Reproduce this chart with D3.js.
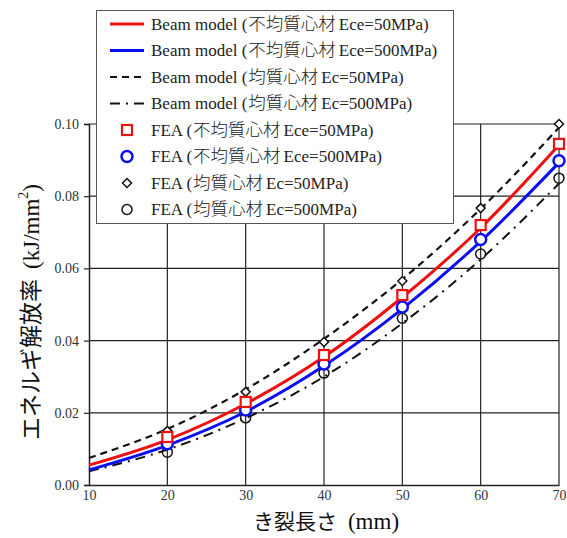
<!DOCTYPE html>
<html><head><meta charset="utf-8">
<script src="https://cdn.jsdelivr.net/npm/d3@7"></script>
<style>body{margin:0;background:#fff}
.serif{font-family:"Liberation Serif","Times New Roman","DejaVu Serif",serif}
.jp{font-family:"Noto Sans CJK JP","Noto Sans",sans-serif}
</style>
</head><body>
<script>
const crackLength = [10, 20, 30, 40, 50, 60, 70];
const feaX = [20, 30, 40, 50, 60, 70];
const beamHetero50 = [0.0055, 0.0125, 0.0225, 0.0355, 0.052, 0.0712, 0.0942];
const beamHetero500 = [0.0042, 0.0110, 0.0203, 0.0330, 0.0488, 0.0675, 0.0893];
const beamHomo50 = [0.0075, 0.0155, 0.0265, 0.0405, 0.0570, 0.0765, 0.0990];
const beamHomo500 = [0.0038, 0.0098, 0.0185, 0.0300, 0.0448, 0.0625, 0.0835];
const feaHetero50 = [0.0133, 0.0230, 0.0360, 0.0526, 0.0720, 0.0945];
const feaHetero500 = [0.0114, 0.0208, 0.0335, 0.0493, 0.0680, 0.0898];
const feaHomo50 = [0.0150, 0.0258, 0.0396, 0.0565, 0.0767, 0.1000];
const feaHomo500 = [0.0091, 0.0186, 0.0310, 0.0462, 0.0640, 0.0850];
const xTicks = [10, 20, 30, 40, 50, 60, 70];
const yTicks = [0.00, 0.02, 0.04, 0.06, 0.08, 0.10];
const legendLabels = [
  "Beam model (不均質心材Ece=50MPa)",
  "Beam model (不均質心材Ece=500MPa)",
  "Beam model (均質心材Ec=50MPa)",
  "Beam model (均質心材Ec=500MPa)",
  "FEA (不均質心材Ece=50MPa)",
  "FEA (不均質心材Ece=500MPa)",
  "FEA (均質心材Ec=50MPa)",
  "FEA (均質心材Ec=500MPa)"
];

const W = 567, H = 538;
const m = {l: 89, r: 7, t: 124, b: 53};
const svg = d3.select("body").append("svg").attr("width", W).attr("height", H);
const x = d3.scaleLinear().domain([10, 70]).range([m.l, W - m.r - 1]);
const y = d3.scaleLinear().domain([0, 0.10]).range([H - m.b, m.t]);

// grid
const g = svg.append("g");
g.selectAll(".vg").data(xTicks.slice(1)).join("line")
  .attr("x1", d => x(d)).attr("x2", d => x(d)).attr("y1", y(0)).attr("y2", y(0.10))
  .attr("stroke", "#222").attr("stroke-width", 1.2);
g.selectAll(".hg").data(yTicks.slice(1)).join("line")
  .attr("x1", x(10)).attr("x2", x(70)).attr("y1", d => y(d)).attr("y2", d => y(d))
  .attr("stroke", "#222").attr("stroke-width", 1.2);

// axes
const xAxis = svg.append("g").attr("transform", `translate(0,${y(0)})`)
  .call(d3.axisBottom(x).tickValues(xTicks).tickSize(0).tickPadding(5).tickFormat(d3.format("d")));
const yAxis = svg.append("g").attr("transform", `translate(${x(10)},0)`)
  .call(d3.axisLeft(y).tickValues(yTicks).tickSize(5).tickPadding(5).tickFormat(d3.format(".2f")));
[xAxis, yAxis].forEach(a => {
  a.attr("font-family", null);
  a.select(".domain").attr("stroke", "#222").attr("stroke-width", 1.5);
  a.selectAll(".tick line").attr("stroke", "#222").attr("stroke-width", 1.2);
  a.selectAll("text").attr("class", "serif").attr("font-size", 14).attr("fill", "#333");
});

// lines
const line = d3.line().x(d => x(d[0])).y(d => y(d[1])).curve(d3.curveMonotoneX);
const mk = arr => crackLength.map((c, i) => [c, arr[i]]);
const series = [
  {v: beamHomo500, color: "#111", w: 2, dash: "10,6,2,6"},
  {v: beamHomo50, color: "#111", w: 2.2, dash: "7,5"},
  {v: beamHetero500, color: "#0a0ff0", w: 3, dash: null},
  {v: beamHetero50, color: "#f01010", w: 3, dash: null}
];
series.forEach(s => {
  svg.append("path").datum(mk(s.v)).attr("d", line).attr("fill", "none")
    .attr("stroke", s.color).attr("stroke-width", s.w)
    .attr("stroke-dasharray", s.dash);
});

// markers
const sym = {
  square: (gg, cx, cy) => gg.append("rect").attr("x", cx - 5).attr("y", cy - 5).attr("width", 10).attr("height", 10)
    .attr("fill", "#fff").attr("stroke", "#f01010").attr("stroke-width", 2.2),
  bcircle: (gg, cx, cy) => gg.append("circle").attr("cx", cx).attr("cy", cy).attr("r", 5.5)
    .attr("fill", "#fff").attr("stroke", "#0a0ff0").attr("stroke-width", 2.5),
  diamond: (gg, cx, cy) => gg.append("path").attr("d", `M${cx},${cy-4.5}L${cx+4.5},${cy}L${cx},${cy+4.5}L${cx-4.5},${cy}Z`)
    .attr("fill", "#fff").attr("stroke", "#111").attr("stroke-width", 1.5),
  kcircle: (gg, cx, cy) => gg.append("circle").attr("cx", cx).attr("cy", cy).attr("r", 5)
    .attr("fill", "none").attr("stroke", "#111").attr("stroke-width", 1.5)
};
const pts = svg.append("g");
[[feaHomo500, "kcircle"], [feaHomo50, "diamond"], [feaHetero500, "bcircle"], [feaHetero50, "square"]].forEach(([arr, s]) => {
  feaX.forEach((c, i) => sym[s](pts, x(c), y(arr[i])));
});

// legend
const lg = svg.append("g");
lg.append("rect").attr("x", 96.5).attr("y", 10.5).attr("width", 357).attr("height", 213)
  .attr("fill", "#fff").attr("stroke", "#555").attr("stroke-width", 1);
const rowY = i => 24 + i * 26.5;
const lx1 = 110, lx2 = 144, mx = 127;
const legendKinds = [
  {t: "line", color: "#f01010", w: 3, dash: null},
  {t: "line", color: "#0a0ff0", w: 3, dash: null},
  {t: "line", color: "#111", w: 2.2, dash: "7,5"},
  {t: "line", color: "#111", w: 2.2, dash: "10,6,2,6"},
  {t: "sym", s: "square"},
  {t: "sym", s: "bcircle"},
  {t: "sym", s: "diamond"},
  {t: "sym", s: "kcircle"}
];
legendKinds.forEach((k, i) => {
  const cy = rowY(i);
  if (k.t === "line") {
    lg.append("line").attr("x1", lx1).attr("x2", lx2).attr("y1", cy).attr("y2", cy)
      .attr("stroke", k.color).attr("stroke-width", k.w).attr("stroke-dasharray", k.dash);
  } else {
    sym[k.s](lg, mx, cy);
  }
  const lab = legendLabels[i];
  const m1 = lab.match(/^(.*\()([^A-Za-z=0-9]+)(.*)$/);
  const tx = lg.append("text").attr("x", 151).attr("y", cy + 5.5).attr("font-size", 17).attr("fill", "#222")
    .attr("class", "serif");
  tx.append("tspan").text(m1[1]);
  tx.append("tspan").attr("class", "jp").attr("font-size", 17.5).attr("font-weight", 300).attr("dx", 1).text(m1[2]);
  tx.append("tspan").attr("dx", 3).text(m1[3]);
});

// axis titles
const xt = svg.append("text").attr("x", 326).attr("y", 529).attr("text-anchor", "middle").attr("fill", "#111");
xt.append("tspan").attr("class", "jp").attr("font-size", 21).text("き裂長さ");
xt.append("tspan").attr("class", "serif").attr("font-size", 23).attr("dx", 11).text("(mm)");

const yt = svg.append("text").attr("transform", "translate(39,312) rotate(-90)").attr("text-anchor", "middle").attr("fill", "#111");
yt.append("tspan").attr("class", "jp").attr("font-size", 23).text("エネルギ解放率");
yt.append("tspan").attr("class", "serif").attr("font-size", 23).attr("dx", 10).text("(kJ/mm");
yt.append("tspan").attr("class", "serif").attr("font-size", 14).attr("dy", -11).text("2");
yt.append("tspan").attr("class", "serif").attr("font-size", 23).attr("dy", 11).text(")");
</script>
</body></html>
